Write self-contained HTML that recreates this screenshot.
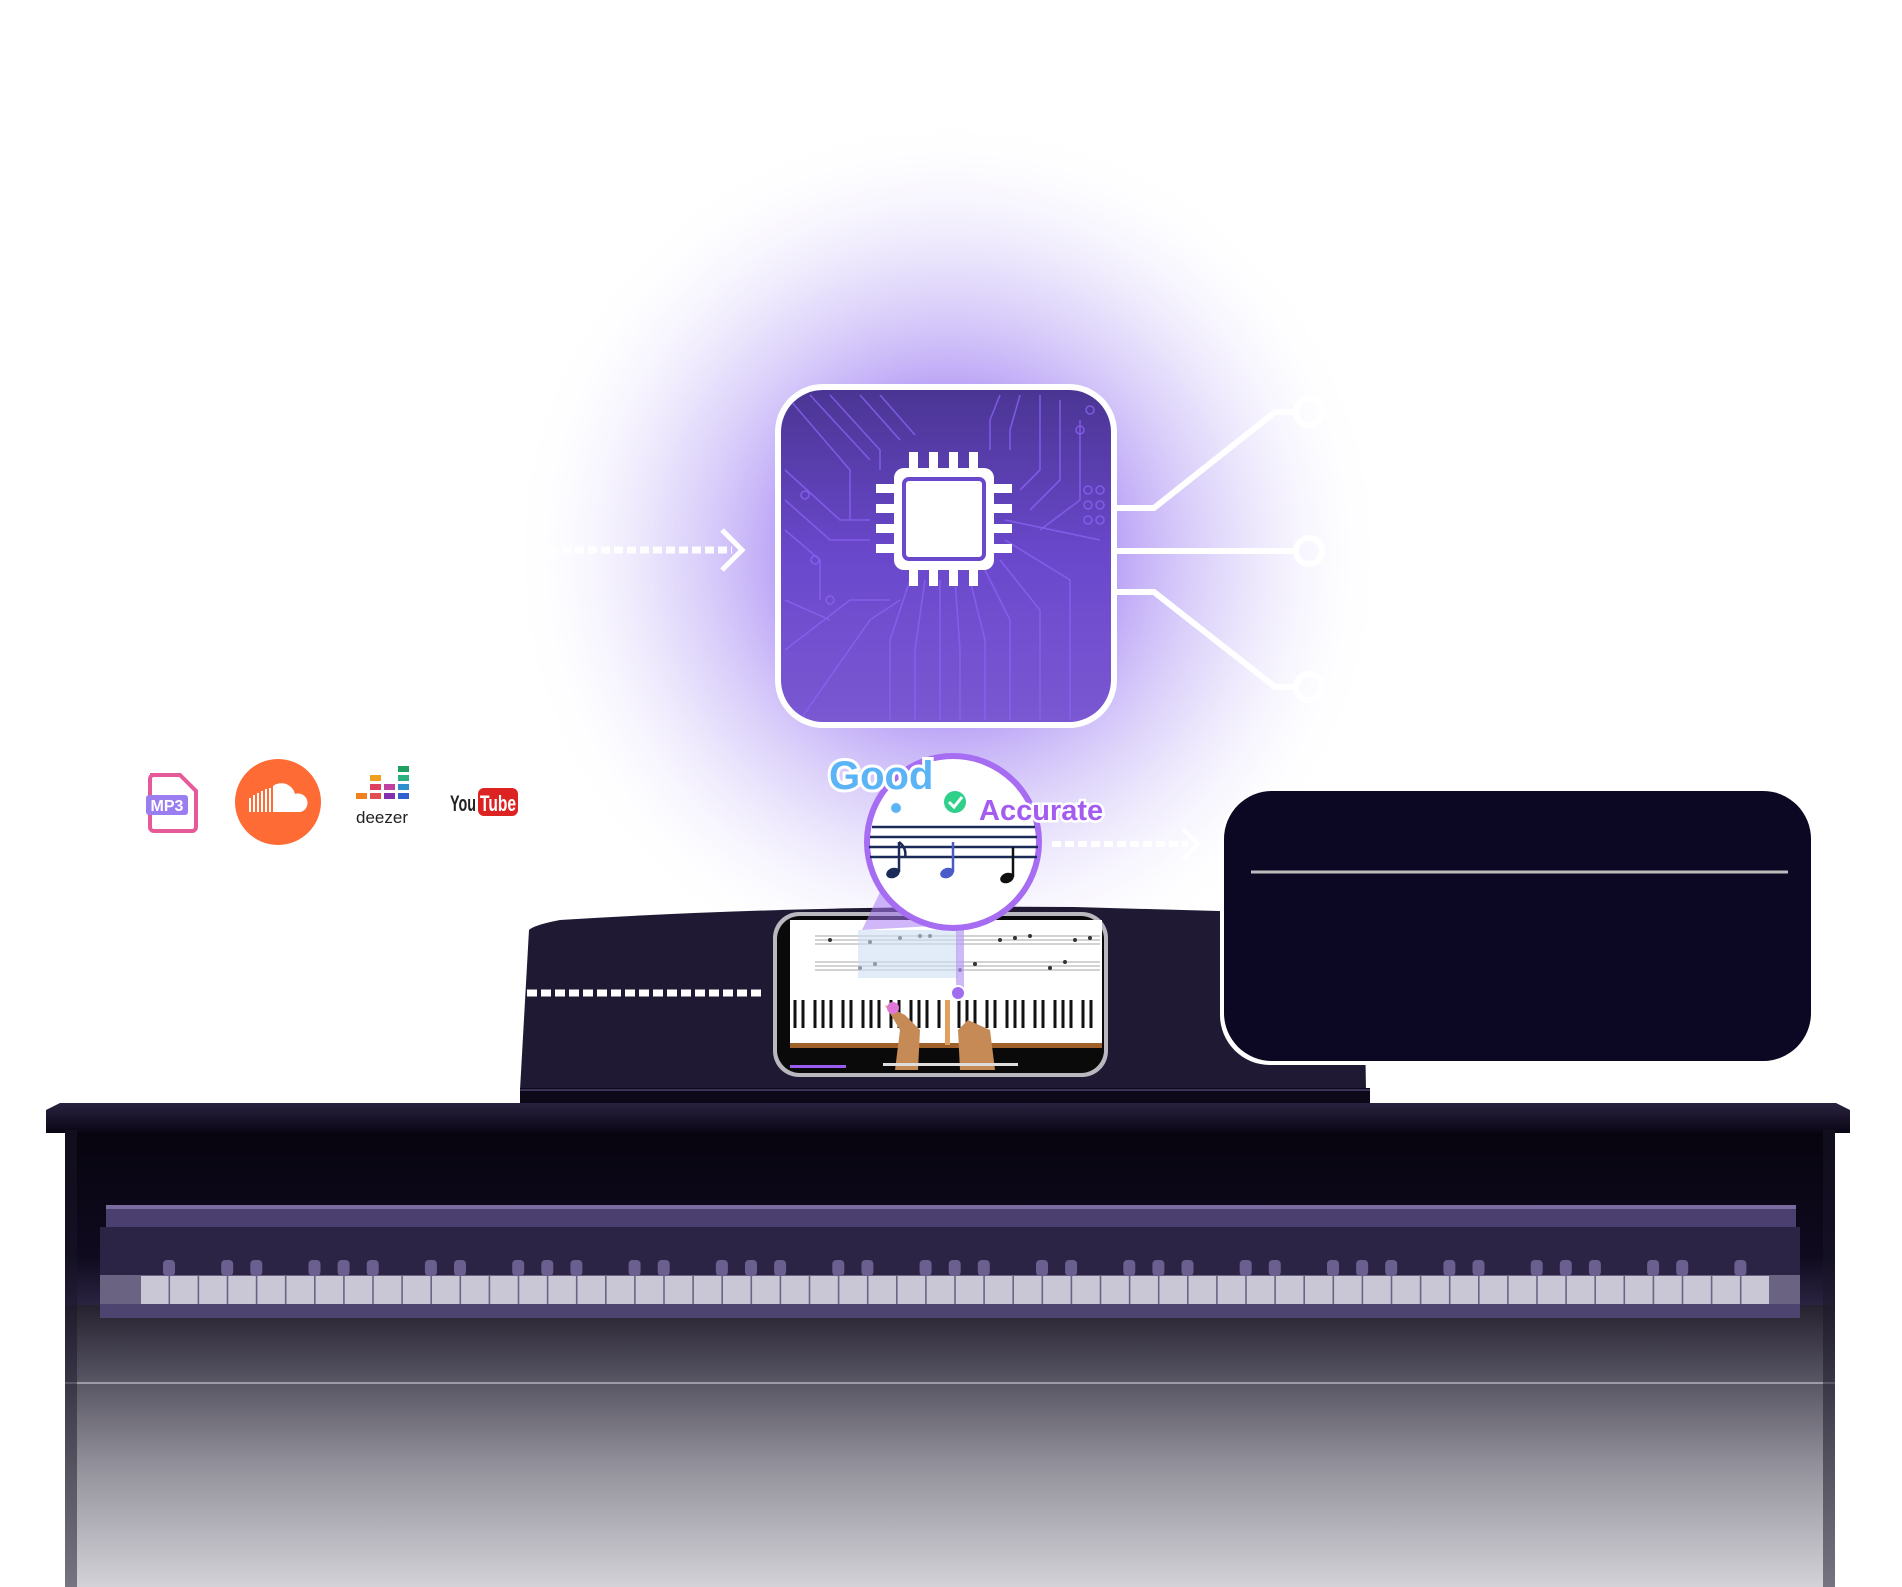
<!DOCTYPE html>
<html><head><meta charset="utf-8"><style>
html,body{margin:0;padding:0;background:#fff;}
body{width:1902px;height:1587px;overflow:hidden;position:relative;font-family:"Liberation Sans",sans-serif;}
svg{position:absolute;left:0;top:0;}
</style></head><body>
<svg width="1902" height="1587" viewBox="0 0 1902 1587" xmlns="http://www.w3.org/2000/svg">
<defs>
 <radialGradient id="glow" cx="948" cy="555" r="440" gradientUnits="userSpaceOnUse">
  <stop offset="0" stop-color="#8f68f2" stop-opacity="1"/>
  <stop offset="0.35" stop-color="#a88af4" stop-opacity="0.85"/>
  <stop offset="0.65" stop-color="#cdbff8" stop-opacity="0.5"/>
  <stop offset="1" stop-color="#ffffff" stop-opacity="0"/>
 </radialGradient>
 <linearGradient id="chip" x1="0" y1="0" x2="0" y2="1">
  <stop offset="0" stop-color="#4a3593"/>
  <stop offset="0.5" stop-color="#6a48cc"/>
  <stop offset="1" stop-color="#7a58d2"/>
 </linearGradient>
 <linearGradient id="body" x1="0" y1="0" x2="0" y2="1">
  <stop offset="0" stop-color="#26212f"/>
  <stop offset="0.2" stop-color="#4a4756"/>
  <stop offset="0.55" stop-color="#8f8d97"/>
  <stop offset="1" stop-color="#d3d2d8"/>
 </linearGradient>
 <linearGradient id="upper" x1="0" y1="0" x2="0" y2="1">
  <stop offset="0" stop-color="#07040f"/>
  <stop offset="0.7" stop-color="#0f0a1e"/>
  <stop offset="1" stop-color="#2e2645"/>
 </linearGradient>
 <linearGradient id="lid" x1="0" y1="0" x2="0" y2="1">
  <stop offset="0" stop-color="#2a2240"/>
  <stop offset="1" stop-color="#0a0614"/>
 </linearGradient>
 <clipPath id="chipclip"><rect x="781" y="390" width="330" height="332" rx="42"/></clipPath>
</defs>

<rect x="400" y="100" width="1100" height="900" fill="url(#glow)"/>

<line x1="523" y1="550" x2="732" y2="550" stroke="#fff" stroke-width="7" stroke-dasharray="9,4" opacity="0.95"/>
<polyline points="722,530 742,550 722,570" fill="none" stroke="#fff" stroke-width="5"/>

<rect x="775" y="384" width="342" height="344" rx="48" fill="#fff"/>
<rect x="781" y="390" width="330" height="332" rx="42" fill="url(#chip)"/>
<g clip-path="url(#chipclip)" stroke="#8a62f0" stroke-width="1.6" fill="none" opacity="0.8">
 <path d="M790 400 L850 470 L850 520 M810 395 L870 460 M830 395 L880 450 L880 470 M860 395 L900 440 M880 395 L915 435 M1000 395 L990 420 L990 450 M1020 395 L1010 430 L1010 450 M1040 395 L1040 470 L1020 490 M1060 400 L1060 480 L1030 510 M1080 420 L1080 500 L1040 530"/>
 <path d="M785 470 L840 520 L870 520 M785 500 L830 540 L870 540 M785 530 L820 560 L820 600 M785 600 L830 620 M785 650 L850 600 L890 600 M800 720 L870 620 L900 600"/>
 <path d="M910 580 L890 640 L890 720 M925 580 L915 650 L915 720 M940 580 L940 720 M955 580 L960 650 L960 720 M970 580 L985 640 L985 720 M985 570 L1010 620 L1010 720 M1000 560 L1040 610 L1040 720 M1005 540 L1070 580 L1070 720 M1005 520 L1100 540"/>
 <circle cx="1090" cy="410" r="4"/><circle cx="1080" cy="430" r="4"/><circle cx="1088" cy="490" r="4"/><circle cx="1100" cy="490" r="4"/><circle cx="1088" cy="505" r="4"/><circle cx="1100" cy="505" r="4"/><circle cx="1088" cy="520" r="4"/><circle cx="1100" cy="520" r="4"/><circle cx="805" cy="495" r="4"/><circle cx="815" cy="560" r="4"/><circle cx="830" cy="600" r="4"/>
</g>
<g fill="#fff">
 <rect x="909" y="452" width="9" height="20"/><rect x="929" y="452" width="9" height="20"/><rect x="949" y="452" width="9" height="20"/><rect x="969" y="452" width="9" height="20"/>
 <rect x="909" y="566" width="9" height="20"/><rect x="929" y="566" width="9" height="20"/><rect x="949" y="566" width="9" height="20"/><rect x="969" y="566" width="9" height="20"/>
 <rect x="876" y="484" width="22" height="9"/><rect x="876" y="504" width="22" height="9"/><rect x="876" y="524" width="22" height="9"/><rect x="876" y="544" width="22" height="9"/>
 <rect x="990" y="484" width="22" height="9"/><rect x="990" y="504" width="22" height="9"/><rect x="990" y="524" width="22" height="9"/><rect x="990" y="544" width="22" height="9"/>
 <rect x="894" y="468" width="100" height="102" rx="10"/>
</g>
<rect x="904" y="479" width="80" height="80" rx="5" fill="none" stroke="#6a48cc" stroke-width="4"/>

<g fill="none" stroke="#fff" stroke-width="6">
 <polyline points="1117,508 1154,508 1275,412 1296,412"/>
 <line x1="1117" y1="551" x2="1296" y2="551"/>
 <polyline points="1117,592 1154,592 1275,687 1296,687"/>
 <circle cx="1309" cy="412" r="13"/><circle cx="1309" cy="551" r="13"/><circle cx="1309" cy="687" r="13"/>
</g>

<g>
 <path d="M150 775 h30 l16 16 v36 a4 4 0 0 1 -4 4 h-38 a4 4 0 0 1 -4 -4 v-48 a4 4 0 0 1 4 -4z" fill="none" stroke="#e75a9a" stroke-width="4"/>
 <rect x="146" y="795" width="42" height="20" rx="3" fill="#9a7ef0"/>
 <text x="167" y="811" font-size="16" font-weight="bold" fill="#fff" text-anchor="middle">MP3</text>
 <circle cx="278" cy="802" r="43" fill="#fe6b35"/>
 <path d="M250 812 v-14 M254 812 v-17 M258 812 v-19 M262 812 v-21 M266 812 v-23 M270 812 v-24" stroke="#fff" stroke-width="2"/>
 <path d="M273 812 v-26 a14 14 0 0 1 22 8 a9 9 0 1 1 6 18 z" fill="#fff"/>
 <g>
  <rect x="398" y="766" width="11" height="6" fill="#20a060"/><rect x="398" y="775" width="11" height="6" fill="#2bb07e"/><rect x="398" y="784" width="11" height="6" fill="#2d8fd0"/><rect x="398" y="793" width="11" height="6" fill="#3060d0"/>
  <rect x="384" y="784" width="11" height="6" fill="#c040a0"/><rect x="384" y="793" width="11" height="6" fill="#8030b0"/>
  <rect x="370" y="784" width="11" height="6" fill="#e04060"/><rect x="370" y="793" width="11" height="6" fill="#e05050"/>
  <rect x="370" y="775" width="11" height="6" fill="#f0a020"/><rect x="356" y="793" width="11" height="6" fill="#f08020"/>
  <text x="382" y="823" font-size="17" fill="#222" text-anchor="middle">deezer</text>
 </g>
 <text x="450" y="811" font-size="22" font-weight="bold" fill="#222" textLength="26" lengthAdjust="spacingAndGlyphs">You</text>
 <rect x="478" y="788" width="40" height="28" rx="6" fill="#d22"/>
 <text x="480" y="811" font-size="22" font-weight="bold" fill="#fff" textLength="36" lengthAdjust="spacingAndGlyphs">Tube</text>
</g>

<path d="M529 930 Q534 925 560 920 Q800 905 1074 907 L1363 915 L1366 1090 L520 1090 Z" fill="#1f1934"/>
<rect x="1220" y="791" width="591" height="274" rx="50" fill="#fff"/>
<rect x="1224" y="791" width="587" height="270" rx="48" fill="#0c0722"/>
<line x1="1251" y1="872" x2="1788" y2="872" stroke="#bdbdbd" stroke-width="3"/>
<rect x="520" y="1088" width="850" height="16" fill="#0d0918"/>
<line x1="520" y1="1090" x2="1370" y2="1090" stroke="#3a3258" stroke-width="2"/>

<line x1="527" y1="993" x2="762" y2="993" stroke="#fff" stroke-width="7" stroke-dasharray="10,4"/>

<rect x="773" y="912" width="335" height="165" rx="26" fill="#b8b8be"/>
<rect x="777" y="916" width="327" height="157" rx="23" fill="#0a0a0a"/>
<rect x="790" y="920" width="312" height="78" fill="#fff"/>
<g stroke="#888" stroke-width="0.8">
 <line x1="815" y1="936" x2="1100" y2="936"/><line x1="815" y1="940" x2="1100" y2="940"/><line x1="815" y1="944" x2="1100" y2="944"/>
 <line x1="815" y1="962" x2="1100" y2="962"/><line x1="815" y1="966" x2="1100" y2="966"/><line x1="815" y1="970" x2="1100" y2="970"/>
</g>
<g fill="#333">
 <circle cx="830" cy="940" r="2"/><circle cx="870" cy="942" r="2"/><circle cx="900" cy="938" r="2"/><circle cx="920" cy="936" r="2"/><circle cx="930" cy="936" r="2"/><circle cx="1000" cy="940" r="2"/><circle cx="1015" cy="938" r="2"/><circle cx="1030" cy="936" r="2"/><circle cx="1075" cy="940" r="2"/><circle cx="1090" cy="938" r="2"/>
 <circle cx="860" cy="968" r="2"/><circle cx="875" cy="964" r="2"/><circle cx="960" cy="970" r="2"/><circle cx="975" cy="964" r="2"/><circle cx="1050" cy="968" r="2"/><circle cx="1065" cy="962" r="2"/>
</g>
<rect x="858" y="930" width="100" height="48" fill="#cfe0f5" opacity="0.6"/>
<rect x="956" y="930" width="8" height="70" fill="#b79cf2" opacity="0.7"/>
<rect x="790" y="998" width="312" height="46" fill="#fff"/>
<g stroke="#111" stroke-width="3">
 <path d="M795 1000 v28 M803 1000 v28 M815 1000 v28 M823 1000 v28 M831 1000 v28 M843 1000 v28 M851 1000 v28 M863 1000 v28 M871 1000 v28 M879 1000 v28 M891 1000 v28 M899 1000 v28 M911 1000 v28 M919 1000 v28 M927 1000 v28 M939 1000 v28 M947 1000 v28 M959 1000 v28 M967 1000 v28 M975 1000 v28 M987 1000 v28 M995 1000 v28 M1007 1000 v28 M1015 1000 v28 M1023 1000 v28 M1035 1000 v28 M1043 1000 v28 M1055 1000 v28 M1063 1000 v28 M1071 1000 v28 M1083 1000 v28 M1091 1000 v28"/>
</g>
<rect x="790" y="1043" width="312" height="5" fill="#a0602a"/>
<path d="M895 1070 L900 1030 L885 1005 L905 1015 L920 1030 L918 1070Z" fill="#c58a55"/>
<path d="M960 1070 L958 1030 L968 1020 L990 1030 L995 1070Z" fill="#c58a55"/>
<rect x="945" y="1000" width="5" height="45" fill="#e2a060"/>
<circle cx="958" cy="993" r="7" fill="#a06cf0" stroke="#fff" stroke-width="2"/>
<circle cx="893" cy="1008" r="6" fill="#e077d8"/>
<rect x="790" y="1065" width="56" height="3" fill="#9a5cf0"/>
<rect x="883" y="1063" width="135" height="3" fill="#ddd"/>

<path d="M862 930 L900 850 L950 925 Z" fill="#a77cf4" opacity="0.55"/>
<circle cx="953" cy="842" r="86" fill="#fff" stroke="#a66cf2" stroke-width="6"/>
<g stroke="#1c2a58" stroke-width="2.5">
 <line x1="872" y1="827" x2="1035" y2="827"/><line x1="870" y1="837" x2="1037" y2="837"/><line x1="869" y1="847" x2="1038" y2="847"/><line x1="870" y1="857" x2="1037" y2="857"/>
</g>
<ellipse cx="893" cy="873" rx="7" ry="5" fill="#1c2a58" transform="rotate(-20 893 873)"/>
<line x1="899" y1="872" x2="899" y2="842" stroke="#1c2a58" stroke-width="2.5"/>
<path d="M899 842 q8 6 6 16" fill="none" stroke="#1c2a58" stroke-width="2.5"/>
<ellipse cx="947" cy="873" rx="7" ry="5" fill="#4a5ac8" transform="rotate(-20 947 873)"/>
<line x1="953" y1="872" x2="953" y2="842" stroke="#4a5ac8" stroke-width="2.5"/>
<ellipse cx="1007" cy="878" rx="7" ry="5" fill="#111" transform="rotate(-20 1007 878)"/>
<line x1="1013" y1="877" x2="1013" y2="847" stroke="#111" stroke-width="2.5"/>
<circle cx="896" cy="808" r="5" fill="#5ab4f5"/>
<circle cx="955" cy="802" r="12" fill="#2fd08a" stroke="#fff" stroke-width="2"/>
<polyline points="949,802 954,807 962,797" fill="none" stroke="#fff" stroke-width="3"/>
<text x="829" y="789" font-size="40" font-weight="bold" fill="#5ab4f5" stroke="#fff" stroke-width="6" paint-order="stroke">Good</text>
<text x="979" y="820" font-size="29" font-weight="bold" fill="#a45cf0" stroke="#fff" stroke-width="5" paint-order="stroke">Accurate</text>

<line x1="1052" y1="844" x2="1188" y2="844" stroke="#fff" stroke-width="6" stroke-dasharray="9,4"/>
<polyline points="1183,829 1198,844 1183,859" fill="none" stroke="#fff" stroke-width="4"/>

<rect x="65" y="1130" width="1770" height="180" fill="url(#upper)"/>
<rect x="65" y="1305" width="1770" height="282" fill="url(#body)"/>
<path d="M46 1110 L60 1103 L1836 1103 L1850 1110 L1850 1133 L46 1133 Z" fill="url(#lid)"/>
<rect x="106" y="1205" width="1690" height="22" fill="#4b3f6f"/>
<rect x="106" y="1205" width="1690" height="4" fill="#7a6ca0"/>
<rect x="100" y="1227" width="1700" height="48" fill="#2b2445"/>
<rect x="100" y="1275" width="1700" height="30" fill="#6a6482"/>
<g id="keys"></g>
<rect x="100" y="1304" width="1700" height="14" fill="#4d4570"/>
<line x1="65" y1="1383" x2="1835" y2="1383" stroke="#9e9aa8" stroke-width="2"/>
<rect x="65" y="1130" width="12" height="457" fill="#1a1628" opacity="0.5"/>
<rect x="1823" y="1130" width="12" height="457" fill="#1a1628" opacity="0.5"/>
</svg>
<script>
(function(){var g=document.getElementById('keys'),s='';
for(var i=0;i<56;i++){var x=141+i*29.1;s+='<rect x="'+x.toFixed(1)+'" y="1276" width="27.5" height="28" fill="#c9c6d6"/>';}
var pat=[1,1,0,1,1,1,0];for(var i=0;i<55;i++){if(pat[(i+5)%7]){var x=141+i*29.1+22;s+='<rect x="'+x.toFixed(1)+'" y="1260" width="12" height="16" rx="4" fill="#6a5f8e"/>';}}
g.innerHTML=s;})();
</script>
</body></html>
